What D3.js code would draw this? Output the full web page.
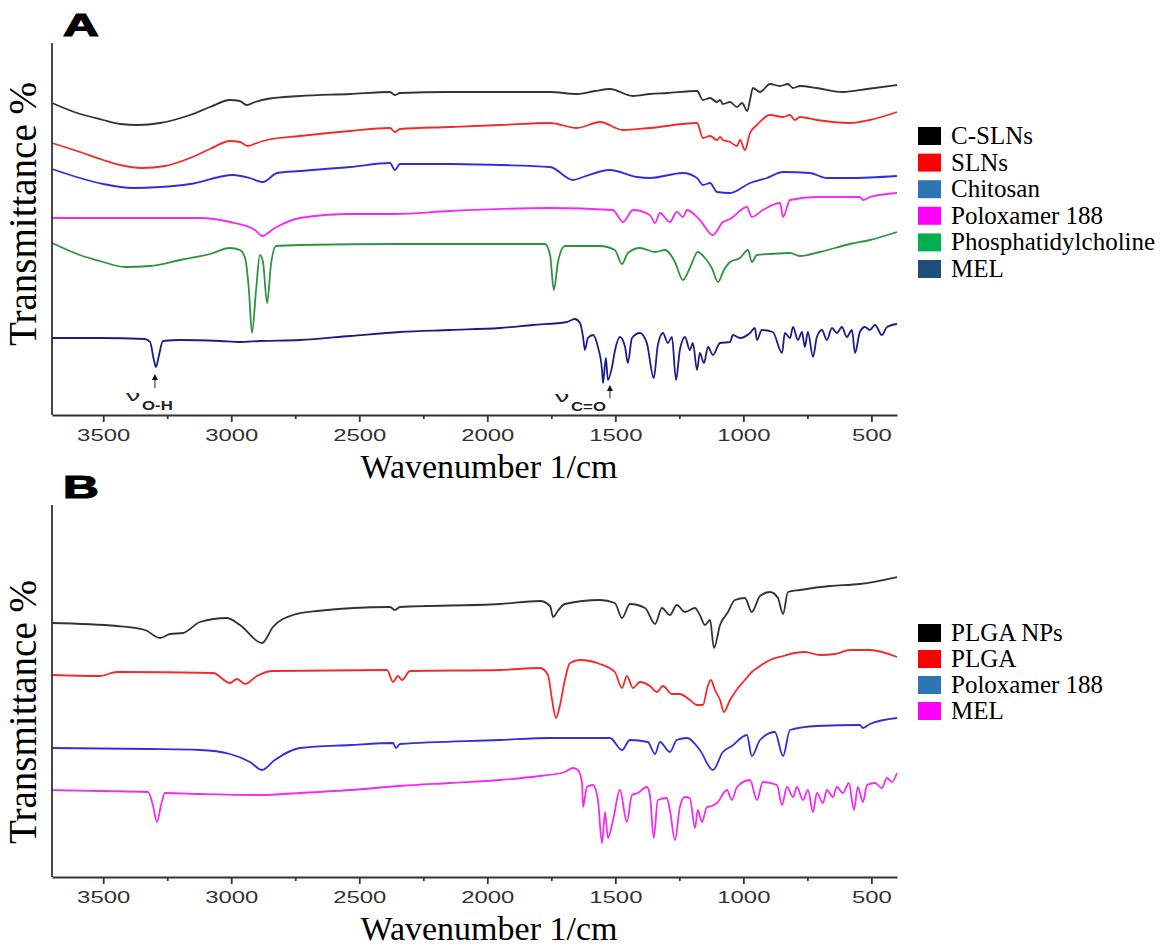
<!DOCTYPE html>
<html>
<head>
<meta charset="utf-8">
<script src="https://cdn.jsdelivr.net/npm/d3@7"></script>
<style>
body { margin: 0; background: #fff; }
</style>
</head>
<body>
<svg width="1172" height="951"></svg>
<script>
// wavenumber (1/cm), transmittance (arbitrary, offset per trace)
var cSLNs = [[3700,78],[3602,75.5],[3500,73.75],[3434,72.75],[3364,72.5],[3278,73],[3161,75],[3083,77],[3005,78.75],[2966,78.5],[2940,77.5],[2907,78.25],[2860,79],[2732,79.75],[2536,80.25],[2380,80.75],[2361,80],[2341,80.5],[2146,80.75],[1951,80.75],[1755,80.75],[1650,80.25],[1580,81],[1521,81.5],[1431,79.75],[1365,80.25],[1298,80.5],[1181,81],[1158,78.75],[1130,79.25],[1103,78.25],[1091,78.75],[1080,77.75],[1052,78.25],[1025,77],[1005,78],[985,76],[974,78.75],[963,81.75],[935,80.75],[896,82.75],[857,82.25],[826,82.75],[806,81.75],[779,82.25],[713,81.75],[611,80.75],[517,81.5],[400,82.5]];

var sLNs = [[3700,68],[3591,65.75],[3500,63.75],[3434,62.5],[3348,61.75],[3259,62.25],[3161,64.25],[3083,66.5],[3005,68.5],[2966,68.25],[2935,67.25],[2900,68],[2860,68.75],[2732,69.75],[2536,71],[2380,71.75],[2361,70.75],[2341,71.5],[2146,72],[1951,72.5],[1755,73],[1650,71.75],[1560,73.25],[1470,71.25],[1365,71.75],[1181,73],[1158,69.25],[1130,69.75],[1103,68.75],[1091,69.5],[1080,68.75],[1052,68.25],[1025,67.25],[1013,68.75],[994,66.25],[974,70.5],[947,72.5],[896,75],[845,74.5],[818,75],[799,73.75],[779,74.5],[713,73.75],[584,73],[506,73.75],[400,75.75]];

var chitosan = [[3700,61.5],[3591,59.25],[3500,57.75],[3384,56.75],[3278,57],[3161,57.75],[2993,60],[2927,59.25],[2876,58.25],[2821,60.5],[2732,61],[2536,62],[2380,63],[2361,61.25],[2341,62.75],[2146,62.75],[1951,62.5],[1755,62],[1665,58.75],[1626,59.5],[1521,61.25],[1416,59.5],[1365,59.25],[1236,60.5],[1181,59.25],[1158,57.5],[1130,58],[1103,55.75],[1052,55.5],[974,58],[908,59.25],[845,60.75],[740,60.5],[674,59.25],[584,59.25],[400,59.75]];

var poloxA = [[3700,49.25],[3317,49.25],[3122,49.25],[3005,48.25],[2907,46.25],[2880,44.75],[2830,46.75],[2732,49.25],[2536,50.25],[2361,50.25],[2146,51],[1755,51.75],[1510,51.25],[1470,48.25],[1431,51.25],[1365,50],[1345,48],[1326,50.5],[1287,48.25],[1260,50.75],[1236,49.5],[1220,51.25],[1170,48.75],[1119,45],[1080,48.25],[1052,49],[986,52],[967,49.5],[924,51.25],[857,53],[845,49.5],[818,53.75],[713,54.5],[545,54.5],[533,53.75],[506,54.5],[400,55.5]];

var phosphatidylcholine = [[3700,43],[3591,40],[3500,38.25],[3415,37],[3317,37.25],[3200,38.75],[3083,40.25],[3005,41.75],[2966,41.25],[2946,39.25],[2931,31.25],[2919,20.5],[2903,31.25],[2888,40],[2876,38.25],[2860,28],[2845,37.5],[2825,42.25],[2732,42.5],[2341,42.75],[1951,42.75],[1775,42.75],[1755,40],[1740,31.25],[1724,38.25],[1697,42.25],[1560,42.25],[1502,41.25],[1474,37.75],[1451,40.5],[1404,41.75],[1345,40.75],[1306,41.25],[1267,38.25],[1236,33.75],[1209,36.75],[1178,40.75],[1150,39.25],[1123,36.75],[1099,33.25],[1076,36.25],[1052,38.25],[1013,39.25],[982,41.25],[967,38.25],[947,40],[896,40.25],[818,40.5],[779,39.75],[701,40.75],[584,42.75],[506,43.75],[400,45.75]];

var melA = [[3700,19.25],[3513,19.25],[3337,19],[3317,18.25],[3302,13.75],[3294,12],[3282,15],[3267,18.5],[3200,18.75],[3044,18.5],[2966,18.25],[2888,18.5],[2732,18.75],[2536,19.75],[2341,20.75],[2146,21.25],[1951,21.75],[1822,22.5],[1689,23.25],[1658,24],[1638,23],[1626,19.5],[1619,16.25],[1607,19.25],[1587,20],[1568,17],[1552,11.25],[1548,8],[1537,14.25],[1529,8.75],[1513,12],[1501,16.25],[1482,19.5],[1462,17],[1451,13],[1435,19.25],[1404,20.5],[1377,18],[1350,9.25],[1334,17.5],[1314,20.5],[1295,18],[1279,19.5],[1263,8.75],[1248,16.25],[1228,19.5],[1209,16.25],[1197,18],[1181,11.25],[1170,15.5],[1154,13],[1138,17],[1119,15],[1091,18],[1052,18.25],[1041,20],[1013,19.25],[974,20.5],[955,21.75],[947,18.75],[928,21.25],[885,20.75],[849,15.5],[838,20.5],[818,19.25],[806,22],[787,18.75],[771,20.75],[760,17],[748,20.75],[728,14.5],[713,19.5],[693,21.25],[674,18.75],[654,21.75],[635,20.5],[615,22],[596,19.5],[576,21.25],[564,15.5],[545,20.75],[525,22],[506,21.25],[486,22.5],[459,20],[439,22],[400,22.75]];

var plgaNPs = [[3700,63.5],[3446,62.75],[3337,61.75],[3278,59.75],[3239,60.75],[3188,61],[3122,63.75],[3017,64.75],[2966,63],[2880,58.5],[2837,62.5],[2759,65.5],[2665,66.5],[2380,67.5],[2361,66.75],[2341,67.5],[1951,68.25],[1794,69],[1755,67.75],[1743,65],[1725,66.5],[1697,68.25],[1560,69.25],[1502,68.5],[1474,64.75],[1443,68.25],[1384,67.25],[1345,63.25],[1318,67.25],[1287,65.5],[1260,68],[1228,66.25],[1189,67.25],[1170,65.5],[1150,63],[1130,64.25],[1115,57.25],[1091,63],[1060,66.25],[1033,69.25],[994,69.75],[967,66.25],[935,70.25],[896,71.25],[865,69.75],[845,65.75],[826,71.25],[779,71.75],[662,72.75],[545,73.25],[400,75]];

var plga = [[3700,50.5],[3513,50.25],[3446,51.25],[3071,51],[3005,48.5],[2978,49.5],[2946,48.25],[2900,50.25],[2837,51.5],[2392,51.75],[2368,48.75],[2349,50.25],[2333,49.25],[2302,51.5],[1951,51.75],[1794,52.25],[1763,50.5],[1747,44.25],[1732,39.75],[1716,43],[1697,49.25],[1677,53.5],[1638,54.25],[1560,53.25],[1502,51.25],[1474,47.25],[1455,50.25],[1431,47.25],[1404,48.75],[1365,47.75],[1338,46.25],[1314,47.75],[1279,45.75],[1248,45.75],[1209,44.25],[1181,43],[1158,43],[1139,47.75],[1127,49.25],[1111,46.75],[1091,44.25],[1076,41.25],[1052,44.25],[1021,47.25],[994,49.25],[967,51.25],[935,52.75],[896,54.25],[845,55.25],[799,56],[760,56.25],[701,55.5],[642,55.75],[584,56.75],[506,56.75],[400,55]];

var poloxB = [[3700,32.25],[3317,32],[3122,31.75],[3005,30.75],[2927,28.75],[2880,26.75],[2830,29.25],[2732,32.25],[2536,33],[2368,33.5],[2357,32.25],[2341,33.25],[1951,34.25],[1755,34.75],[1521,34.75],[1474,31.75],[1443,34.25],[1373,33.75],[1345,30.75],[1326,33.75],[1287,31.25],[1260,34.25],[1220,34.75],[1170,31.75],[1119,26.75],[1080,31.25],[1045,32.75],[986,35.5],[967,30.25],[935,34.25],[877,36.25],[845,30.25],[818,36.75],[713,37.75],[545,38],[533,37.25],[506,38.25],[400,39.75]];

var melB = [[3700,21.75],[3513,21.5],[3325,21.25],[3306,18],[3290,13.75],[3274,18],[3259,21],[3122,20.75],[2888,20.5],[2732,21],[2536,21.75],[2341,22.75],[2146,23.5],[1951,24.25],[1794,25.25],[1697,26.25],[1666,27.25],[1646,26.75],[1630,23.5],[1626,17.5],[1611,22.5],[1587,23],[1568,19.25],[1552,8.5],[1540,16.25],[1529,9.75],[1509,14.25],[1482,21.75],[1455,13.75],[1435,20.5],[1412,21],[1377,22.5],[1365,20.5],[1350,9.75],[1334,19.25],[1299,19.75],[1287,16.75],[1267,9.25],[1248,17.5],[1228,20],[1209,19.75],[1189,12.25],[1178,16.75],[1162,13.75],[1142,17.5],[1123,17.75],[1103,18.5],[1064,21.75],[1045,19.25],[1025,22.5],[974,24.25],[947,19.25],[924,23.75],[869,23],[849,18],[830,22.5],[806,20],[791,22.5],[767,19.25],[748,21.75],[728,16.25],[713,21],[689,18.5],[674,21.75],[650,20],[635,22.5],[611,21],[588,23.5],[568,16.75],[553,22.5],[533,18.75],[517,23],[486,23.5],[459,22.25],[439,24.75],[420,23.75],[400,26]];

var majorTicks = [3500, 3000, 2500, 2000, 1500, 1000, 500];
var minorTicks = [3250, 2750, 2250, 1750, 1250, 750];

var legendA = ["C-SLNs", "SLNs", "Chitosan", "Poloxamer 188", "Phosphatidylcholine", "MEL"];
var legendB = ["PLGA NPs", "PLGA", "Poloxamer 188", "MEL"];

var svg = d3.select("svg");

var x = d3.scaleLinear().domain([3700, 400]).range([52, 897]);

var panels = [
  {
    letter: "A", top: 43, bottom: 415, yTitle: 214,
    series: [cSLNs, sLNs, chitosan, poloxA, phosphatidylcholine, melA],
    lineColors: ["#333333", "#f42a2a", "#2f2fe0", "#f22cf2", "#2e9440", "#1d1d86"],
    legend: legendA,
    legendColors: ["#000000", "#ff0000", "#2e75b6", "#ff00ff", "#00b050", "#1f4e79"],
    legendBase: 145, legendStep: 26.6
  },
  {
    letter: "B", top: 505, bottom: 877, yTitle: 712,
    series: [plgaNPs, plga, poloxB, melB],
    lineColors: ["#333333", "#f42a2a", "#2f2fe0", "#f22cf2"],
    legend: legendB,
    legendColors: ["#000000", "#ff0000", "#2e75b6", "#ff00ff"],
    legendBase: 642, legendStep: 26
  }
];

panels.forEach(function(p) {
  var y = d3.scaleLinear().domain([0, 93]).range([p.bottom, p.top]);
  var g = svg.append("g");

  var line = d3.line()
    .x(function(d) { return x(d[0]); })
    .y(function(d) { return y(d[1]); })
    .curve(d3.curveMonotoneX);

  g.selectAll("path.spec")
    .data(p.series)
    .enter()
    .append("path")
    .attr("class", "spec")
    .attr("d", line)
    .attr("fill", "none")
    .attr("stroke", function(d, i) { return p.lineColors[i]; })
    .attr("stroke-width", 1.8)
    .attr("stroke-linejoin", "round");

  // left axis line (no ticks)
  g.append("line")
    .attr("x1", 52).attr("x2", 52)
    .attr("y1", p.top).attr("y2", p.bottom)
    .attr("stroke", "#333").attr("stroke-width", 1.8);

  // minor ticks
  g.append("g")
    .attr("transform", "translate(0," + p.bottom + ")")
    .call(d3.axisBottom(x).tickValues(minorTicks).tickSize(4).tickFormat(""))
    .call(function(a) { a.select(".domain").remove(); })
    .selectAll("line").attr("stroke", "#333").attr("stroke-width", 1.8);

  var ax = g.append("g")
    .attr("transform", "translate(0," + p.bottom + ")")
    .call(d3.axisBottom(x).tickValues(majorTicks).tickFormat(d3.format("d"))
      .tickSize(7).tickSizeOuter(0).tickPadding(7));
  ax.select(".domain").attr("stroke", "#333").attr("stroke-width", 1.8);
  ax.selectAll(".tick line").attr("stroke", "#333").attr("stroke-width", 1.8);
  ax.selectAll(".tick text")
    .attr("fill", "#333")
    .style("font-family", "Arial, 'Liberation Sans', sans-serif")
    .style("font-size", "16.5px")
    .attr("transform", "scale(1.45,1)");

  // panel letter
  g.append("text")
    .attr("x", 0).attr("y", 0)
    .attr("transform", "translate(63," + (p.top - 7) + ") scale(1.55,1)")
    .style("font-family", "Arial, 'Liberation Sans', sans-serif")
    .style("font-weight", "bold")
    .style("font-size", "32px")
    .attr("stroke", "#000").attr("stroke-width", 1.2)
    .text(p.letter);

  // axis titles
  g.append("text")
    .attr("x", 489).attr("y", p.bottom + 63)
    .attr("text-anchor", "middle")
    .style("font-family", "'Liberation Serif', 'Times New Roman', serif")
    .style("font-size", "34px")
    .text("Wavenumber 1/cm");

  g.append("text")
    .attr("transform", "translate(36," + p.yTitle + ") rotate(-90)")
    .attr("text-anchor", "middle")
    .style("font-family", "'Liberation Serif', 'Times New Roman', serif")
    .style("font-size", "39px")
    .text("Transmittance %");

  // legend
  var lg = g.selectAll("g.leg")
    .data(p.legend)
    .enter()
    .append("g")
    .attr("class", "leg")
    .attr("transform", function(d, i) { return "translate(918," + (p.legendBase + i * p.legendStep) + ")"; });
  lg.append("rect")
    .attr("x", 0).attr("y", -18)
    .attr("width", 23).attr("height", 18)
    .attr("fill", function(d, i) { return p.legendColors[i]; });
  lg.append("text")
    .attr("x", 33).attr("y", -1)
    .style("font-family", "'Liberation Serif', 'Times New Roman', serif")
    .style("font-size", "25px")
    .text(function(d) { return d; });
});

// peak annotations in panel A
var notes = [
  { w: 3298, sub: "O-H", tipY: 374, tailY: 388, vx: 126, vy: 401 },
  { w: 1521, sub: "C=O", tipY: 385, tailY: 398, vx: 555, vy: 402 }
];
notes.forEach(function(n) {
  var ax = x(n.w);
  svg.append("line")
    .attr("x1", ax).attr("x2", ax)
    .attr("y1", n.tipY + 4).attr("y2", n.tailY)
    .attr("stroke", "#222").attr("stroke-width", 1);
  svg.append("path")
    .attr("d", "M" + ax + "," + n.tipY + "l-3,6h6z")
    .attr("fill", "#111");
  svg.append("text")
    .attr("transform", "translate(" + n.vx + "," + n.vy + ") scale(1.9,1)")
    .style("font-family", "Arial, 'Liberation Sans', sans-serif")
    .style("font-size", "15px")
    .attr("fill", "#222")
    .text("ν");
  svg.append("text")
    .attr("transform", "translate(" + (n.vx + 16) + "," + (n.vy + 9) + ") scale(1.4,1)")
    .style("font-family", "Arial, 'Liberation Sans', sans-serif")
    .style("font-weight", "bold")
    .style("font-size", "12px")
    .attr("fill", "#222")
    .text(n.sub);
});
</script>
</body>
</html>
